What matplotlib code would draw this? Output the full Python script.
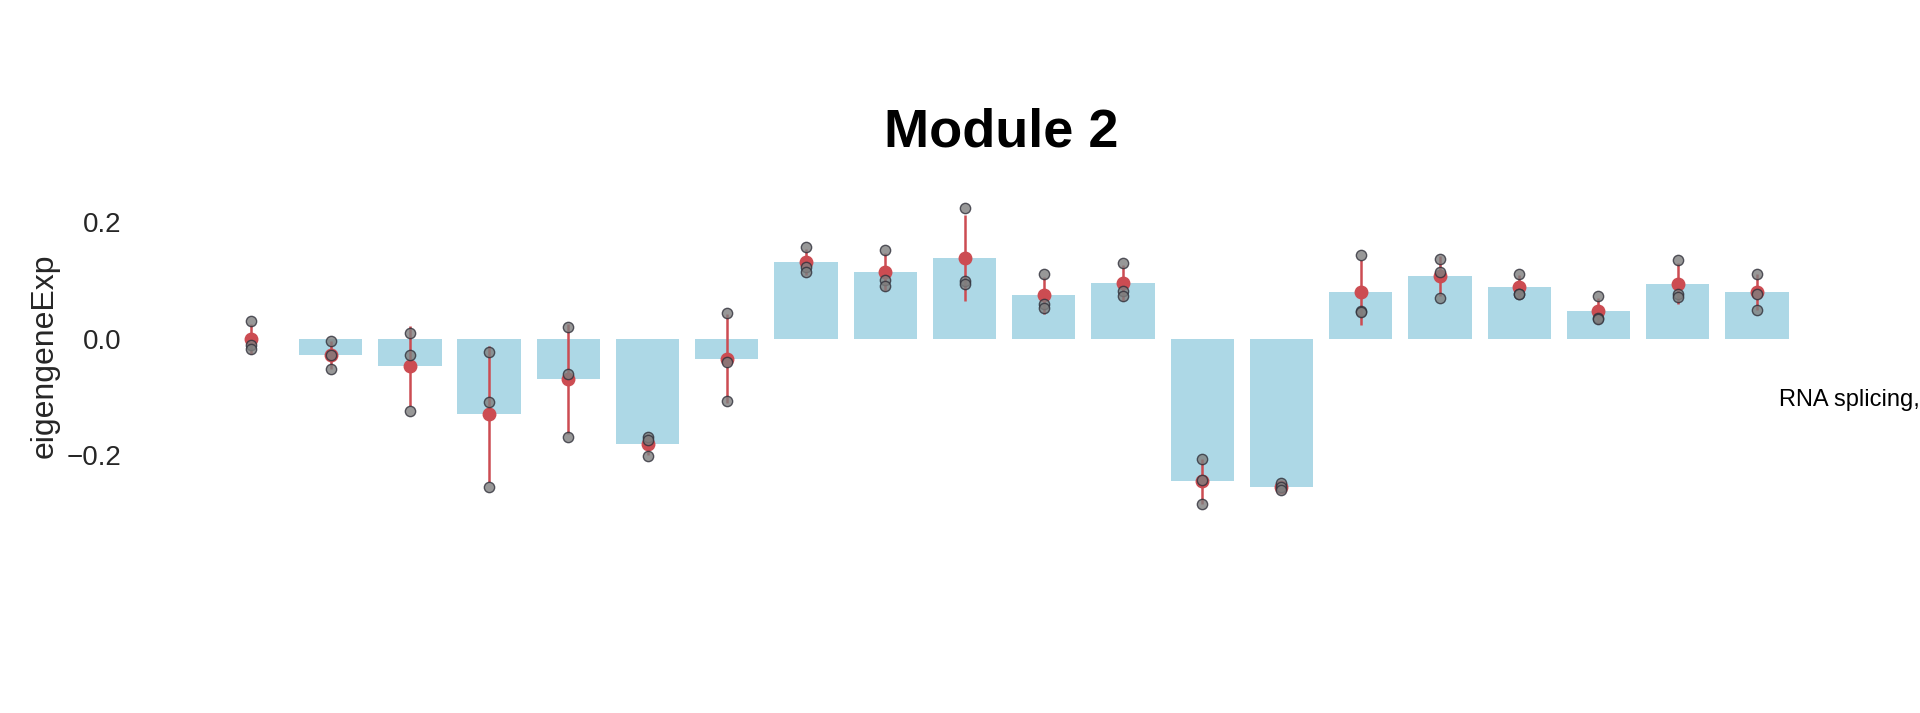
import numpy as np
import matplotlib
matplotlib.use("Agg")
import matplotlib.pyplot as plt

plt.rcParams['font.family'] = ['Liberation Sans', 'DejaVu Sans']

# three replicate eigengene values per sample
rep1 = [0.030, -0.003, 0.011, -0.023, 0.021, -0.169, 0.045, 0.158, 0.153, 0.224,
        0.111, 0.131, -0.206, -0.248, 0.145, 0.138, 0.112, 0.074, 0.136, 0.112]
rep2 = [-0.010, -0.027, -0.027, -0.109, -0.060, -0.173, -0.040, 0.123, 0.101, 0.099,
        0.060, 0.083, -0.243, -0.255, 0.048, 0.115, 0.078, 0.036, 0.077, 0.078]
rep3 = [-0.018, -0.051, -0.123, -0.254, -0.168, -0.201, -0.106, 0.115, 0.091, 0.094,
        0.054, 0.074, -0.283, -0.260, 0.047, 0.071, 0.078, 0.034, 0.072, 0.050]

title = "Module 2"
ylabel = "eigengeneExp"
side_note = "RNA splicing,"

vals = np.array([rep1, rep2, rep3])
mean = vals.mean(axis=0)
sd = vals.std(axis=0, ddof=1)
x = np.arange(vals.shape[1])

fig = plt.figure(figsize=(19.2, 7.13), dpi=100)
ax = fig.add_axes([0.069, 0.273, 0.8667, 0.455])

ax.bar(x, mean, width=0.8, color='#add8e6', zorder=1)
ax.errorbar(x, mean, yerr=sd, fmt='o', color='#cc4c52', ecolor='#cc4c52',
            elinewidth=1.8, markersize=9, capsize=0, zorder=2)
for r in vals:
    ax.scatter(x, r, s=55, color='#7f7f7f', edgecolors='#30303a', linewidths=1,
               alpha=0.8, zorder=3)

ax.set_xlim(-1.5, len(x) - 0.5)
ax.set_ylim(-0.308, 0.249)
ax.set_yticks([-0.2, 0.0, 0.2])
ax.set_xticks([])
ax.tick_params(axis='y', length=0, pad=8, labelsize=20, labelcolor='#262626')
for s in ax.spines.values():
    s.set_visible(False)

ax.set_ylabel(ylabel, fontsize=23, color='#262626', labelpad=5)
ax.set_title(title, fontsize=39, fontweight='bold', pad=34, x=0.522)

fig.text(0.9266, 0.439, side_note, fontsize=17, va='center', ha='left', color='black')

fig.savefig("out.png", dpi=100)
